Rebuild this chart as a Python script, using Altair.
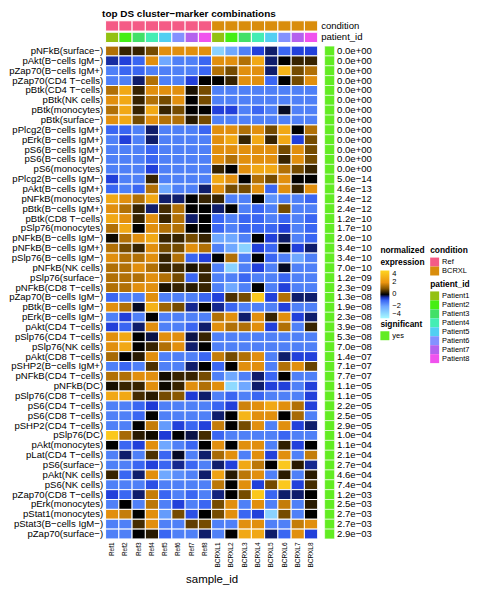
import altair as alt
import pandas as pd

samples = ["Ref1", "Ref2", "Ref3", "Ref4", "Ref5", "Ref6", "Ref7", "Ref8",
           "BCRXL1", "BCRXL2", "BCRXL3", "BCRXL4", "BCRXL5", "BCRXL6", "BCRXL7", "BCRXL8"]
conditions = ["Ref", "Ref", "Ref", "Ref", "Ref", "Ref", "Ref", "Ref",
              "BCRXL", "BCRXL", "BCRXL", "BCRXL", "BCRXL", "BCRXL", "BCRXL", "BCRXL"]
patients = ["Patient1", "Patient2", "Patient3", "Patient4", "Patient5", "Patient6", "Patient7", "Patient8",
            "Patient1", "Patient2", "Patient3", "Patient4", "Patient5", "Patient6", "Patient7", "Patient8"]
condition_levels = ["Ref", "BCRXL"]
condition_colors = ["#F45B86", "#D98D0C"]
patient_levels = ["Patient1", "Patient2", "Patient3", "Patient4", "Patient5", "Patient6", "Patient7", "Patient8"]
patient_colors = ["#93C112", "#45EE14", "#42E068", "#44EDB4", "#52CFF2", "#8391FF", "#B462EE", "#F052EE"]

markers = [
    "pNFkB(surface−)", "pAkt(B−cells IgM−)", "pZap70(B−cells IgM+)", "pZap70(CD4 T−cells)",
    "pBtk(CD4 T−cells)", "pBtk(NK cells)", "pBtk(monocytes)", "pBtk(surface−)",
    "pPlcg2(B−cells IgM+)", "pErk(B−cells IgM+)", "pS6(B−cells IgM+)", "pS6(B−cells IgM−)",
    "pS6(monocytes)", "pPlcg2(B−cells IgM−)", "pAkt(B−cells IgM+)", "pNFkB(monocytes)",
    "pBtk(B−cells IgM+)", "pBtk(CD8 T−cells)", "pSlp76(monocytes)", "pNFkB(B−cells IgM−)",
    "pNFkB(B−cells IgM+)", "pSlp76(B−cells IgM−)", "pNFkB(NK cells)", "pSlp76(surface−)",
    "pNFkB(CD8 T−cells)", "pZap70(B−cells IgM−)", "pBtk(B−cells IgM−)", "pErk(B−cells IgM−)",
    "pAkt(CD4 T−cells)", "pSlp76(CD4 T−cells)", "pSlp76(NK cells)", "pAkt(CD8 T−cells)",
    "pSHP2(B−cells IgM+)", "pNFkB(CD4 T−cells)", "pNFkB(DC)", "pSlp76(CD8 T−cells)",
    "pS6(CD4 T−cells)", "pS6(CD8 T−cells)", "pSHP2(CD4 T−cells)", "pSlp76(DC)",
    "pAkt(monocytes)", "pLat(CD4 T−cells)", "pS6(surface−)", "pAkt(NK cells)",
    "pS6(NK cells)", "pZap70(CD8 T−cells)", "pErk(monocytes)", "pStat1(monocytes)",
    "pStat3(B−cells IgM−)", "pZap70(surface−)",
]

pvalues = [
    "0.0e+00", "0.0e+00", "0.0e+00", "0.0e+00", "0.0e+00", "0.0e+00", "0.0e+00", "0.0e+00",
    "0.0e+00", "0.0e+00", "0.0e+00", "0.0e+00", "0.0e+00", "5.0e−14", "4.6e−13", "2.4e−12",
    "2.4e−12", "1.2e−10", "1.7e−10", "2.0e−10", "3.4e−10", "3.4e−10", "7.0e−10", "1.2e−09",
    "2.3e−09", "1.3e−08", "1.9e−08", "2.3e−08", "3.9e−08", "5.3e−08", "7.0e−08", "1.4e−07",
    "7.1e−07", "7.7e−07", "1.1e−05", "1.1e−05", "2.2e−05", "2.5e−05", "2.9e−05", "1.0e−04",
    "1.1e−04", "2.1e−04", "2.7e−04", "4.6e−04", "7.4e−04", "1.2e−03", "2.5e−03", "2.7e−03",
    "2.7e−03", "2.9e−03",
]

expression = [
    [1.4, 0.4, 0.4, 0.85, 1.9, 1.9, 1.9, 1.9, -3.0, -2.0, -1.4, -0.65, -0.3, -1.0, -0.65, -0.65],
    [-0.45, -0.65, -1.0, 1.9, -2.0, -1.4, -1.4, -1.0, 1.9, 1.9, 1.4, 2.6, -0.3, 0.0, 0.4, 0.4],
    [-1.4, -1.0, -1.0, -1.4, -1.4, -1.4, -1.4, -1.0, 1.4, 0.85, 1.9, 1.9, -0.3, 3.0, 0.85, 1.4],
    [-1.4, -1.4, -0.3, 1.4, -1.4, -1.4, -0.65, 0.0, 0.0, 0.4, 1.9, 1.9, -1.0, 0.0, 0.85, 1.9],
    [1.4, 2.6, 0.4, 1.9, 1.9, 1.9, 0.2, 0.85, -1.4, -1.4, -1.4, -1.4, -1.4, -1.4, -1.4, -1.4],
    [1.9, 2.6, 0.4, 1.4, 0.85, 1.9, 0.0, 0.85, -1.4, -1.4, -1.4, -1.4, -1.4, -1.4, -1.4, -1.4],
    [1.4, 2.6, 0.4, 2.6, 0.4, 0.85, 0.0, 0.0, -0.65, -0.65, -1.4, -1.0, -1.4, -0.1, -1.4, -1.4],
    [1.9, 2.6, 0.85, 1.9, 1.4, 1.4, 0.3, 0.85, -1.4, -1.4, -1.4, -1.4, -1.4, -1.4, -1.4, -1.4],
    [-1.0, -1.0, -1.4, -0.3, -1.4, -1.4, -1.4, -1.0, 1.9, 1.9, 1.4, 1.9, 0.85, 2.6, 0.0, 1.4],
    [-1.4, -0.65, -1.4, -0.3, -1.4, -1.4, -1.4, -1.4, 1.9, 2.6, 0.4, 2.6, 0.4, 2.6, -0.65, 0.85],
    [-1.4, -1.4, -1.4, -1.0, -1.4, -1.4, -1.4, -1.4, 1.9, 1.9, 1.9, 1.9, 1.9, 0.85, 1.9, 0.85],
    [-1.4, -1.4, -1.4, -1.0, -1.4, -1.4, -1.4, -1.4, 1.9, 1.4, 1.9, 1.9, 1.9, 0.4, 1.9, 0.85],
    [-1.4, -1.4, -1.4, -0.65, -1.4, -1.4, -1.4, -1.4, 0.4, 0.0, 1.9, 2.6, 2.6, 1.4, 0.85, 0.4],
    [-0.65, -1.4, -1.4, 0.4, -1.4, -1.4, -1.4, -1.4, 2.6, 1.9, 0.0, 1.4, 0.85, 1.9, 0.0, 0.0],
    [-1.0, -1.4, -1.0, 1.4, -2.0, -1.4, -1.4, -0.3, 1.9, 0.85, 0.85, 1.9, -1.0, 1.9, 0.4, 1.9],
    [2.6, 1.9, 1.4, 2.6, -0.3, -0.3, 0.0, 0.4, 0.4, -1.4, -1.4, 0.0, -1.7, -1.4, -1.4, -1.0],
    [1.9, 1.4, 0.4, -0.3, 0.5, 1.4, 0.0, 0.0, -0.3, 0.0, -1.4, -1.0, -1.4, 0.85, -1.4, -1.4],
    [2.6, 1.9, 0.4, 1.9, 0.4, 1.4, -0.3, 0.0, -1.0, -1.4, -1.0, -1.0, -1.4, -1.0, -1.4, -1.0],
    [1.4, 2.6, 0.0, 1.9, 1.4, 1.4, 0.0, 0.0, -1.0, -1.4, -1.0, -1.0, -1.0, -0.65, -1.4, -1.0],
    [0.1, 1.4, 1.9, 2.6, 0.4, 0.4, 0.85, 0.4, -2.0, -2.0, -1.4, 0.0, -0.65, -0.3, -1.4, -1.0],
    [1.4, 0.85, 0.4, 1.9, 0.85, 0.85, 1.9, 1.4, -1.4, -2.0, -3.0, -0.65, -1.0, 0.0, -0.65, -0.3],
    [1.9, 1.4, 1.4, 1.9, 0.4, 1.4, -1.0, -0.65, 0.0, 1.4, -1.4, 0.0, -1.0, -1.4, -2.0, -1.4],
    [1.4, 1.4, 1.9, 1.4, 0.4, 0.5, 0.2, 0.4, -1.4, -3.0, -1.4, -0.65, -1.4, -0.1, -1.4, -1.4],
    [1.4, 1.4, 1.4, 1.9, 1.4, 0.85, -1.0, 0.4, -1.4, -1.4, -1.0, -1.4, -1.4, -1.0, -1.4, -1.4],
    [1.4, 1.4, 1.9, 1.9, 0.2, 0.4, 0.3, 0.4, -1.4, -2.0, -1.4, 0.0, -1.4, -0.65, -1.4, -1.4],
    [-1.0, -1.4, -1.4, 1.9, -1.4, -1.4, -1.4, -1.0, -0.65, 0.55, 0.85, 3.6, -0.65, 1.4, -0.3, -0.3],
    [1.9, 1.4, -0.1, 2.9, 1.2, 0.85, -0.4, 0.0, -0.4, -1.0, -1.4, -1.4, -1.4, -0.65, -1.4, -1.4],
    [-1.4, -0.65, -1.4, 0.0, -1.4, -1.4, -1.4, -1.4, 1.4, 1.9, -0.3, 1.9, 0.4, 1.9, -0.65, -0.3],
    [-0.65, -1.0, -0.3, 1.9, -1.4, -1.4, -1.0, -0.3, 1.9, 1.4, 1.4, 1.9, -0.65, 1.4, -1.4, 0.4],
    [1.9, 2.6, 0.0, -0.2, 1.9, 1.9, -0.2, 0.4, -1.4, -1.4, -1.4, -1.4, -1.4, -1.4, -1.4, -1.4],
    [1.9, 2.6, 0.0, 0.4, 1.4, 1.9, -0.3, 0.0, -1.4, -1.4, -1.4, -1.4, -1.4, -1.4, -1.4, -1.4],
    [1.3, 0.0, 0.3, 1.9, -1.4, -1.4, -1.4, -1.0, 1.6, 0.85, 1.4, 1.9, -1.4, -0.3, -0.65, -0.65],
    [-1.4, -1.0, -1.4, 0.55, -1.4, -1.4, -0.3, 0.0, -1.0, 0.0, 1.9, 1.9, -1.4, 1.4, 1.9, 0.75],
    [1.4, 1.4, 1.9, 1.9, 0.15, 0.4, 0.4, 0.85, -1.4, -2.0, -1.4, -0.3, -1.0, 0.0, -1.4, -1.4],
    [0.15, 0.4, 0.4, 1.9, 0.1, 0.4, 1.9, 1.4, 1.9, -3.2, -2.0, -0.3, -0.65, -0.65, -1.4, -0.65],
    [2.6, 2.6, 0.5, 0.3, 0.85, 1.0, -0.6, -0.3, -1.4, -1.0, -1.4, -1.0, -1.4, -1.4, -1.4, -0.65],
    [-1.4, -1.4, -1.0, -0.6, -1.4, -1.4, -1.4, -1.4, -1.0, -0.65, 1.7, 1.9, 2.6, 1.9, 1.4, -0.65],
    [-1.4, -1.4, -1.0, 0.0, -1.4, -1.4, -1.4, -1.4, -0.3, 0.0, 3.0, 1.9, 1.9, 0.0, 1.3, -1.4],
    [-1.4, -1.4, 0.0, 1.6, -1.8, -0.65, -1.0, -0.65, 1.6, 0.0, 0.85, 1.9, -1.4, 1.9, -0.65, -0.3],
    [3.6, 1.3, 0.3, 0.1, -0.6, 0.0, -0.2, 0.5, -1.0, -1.4, -1.4, -1.4, -1.4, -1.0, -1.4, -1.4],
    [0.0, -1.0, -0.65, 1.9, -2.0, -1.4, -1.0, 0.0, 1.9, 0.0, 1.9, 1.9, -1.4, 0.35, -0.65, 0.0],
    [-1.4, -0.3, -1.4, 0.55, -1.0, -0.1, -1.4, -0.3, 1.3, 1.9, -1.4, 1.9, -0.65, 1.9, -1.4, 1.6],
    [-1.4, -1.4, -1.0, -0.65, -1.0, -0.4, -1.0, -1.4, -0.3, -0.65, 2.6, 1.5, 0.0, 3.6, 0.3, -0.4],
    [0.4, -1.0, -0.3, 1.9, -2.0, -1.6, -1.4, -0.3, 2.4, 0.3, 1.5, 1.9, -1.4, 0.3, -1.4, 0.3],
    [-1.4, -1.4, -1.4, -0.8, -1.4, -1.4, -1.4, -1.4, 1.5, 0.0, 1.9, -0.65, 0.85, 3.6, -0.65, 0.5],
    [-0.65, -1.0, -0.3, 1.6, -1.0, -1.4, -1.0, -1.4, -0.35, 0.0, 0.85, 3.6, -1.0, -0.3, -0.3, 0.0],
    [-1.4, 0.0, -1.4, 1.5, -1.4, -0.65, -1.4, -1.0, 0.85, 1.9, -1.4, 1.9, -1.4, 1.6, -1.4, 0.3],
    [1.9, 1.6, 0.0, 1.9, -1.8, 0.85, -0.8, 0.0, 0.85, 1.9, -1.0, -0.65, -3.0, 0.85, -1.4, 0.0],
    [-1.4, -1.4, 0.5, 1.9, -1.4, -1.4, 0.7, 0.85, -1.4, -1.4, 1.9, 1.9, -1.4, -1.4, 1.6, 1.9],
    [-1.4, -1.4, 0.0, 0.3, -1.0, -1.4, -1.4, -0.3, -1.4, 0.0, 2.6, 2.6, -0.3, -1.0, 1.9, -0.65],
]

legend_ticks = [4, 2, 0, -2, -4]
heat_domain = [-4, -2, -1, -0.6, 0, 1, 2, 4]
heat_range = ["#a5fbff", "#6fa8ff", "#3a66f2", "#1e3ad6", "#000000", "#8a5800", "#eb9510", "#ffd520"]
sig_color = "#62EC22"

FONT = "Liberation Sans"

# ---------- tables ----------
heat_df = pd.DataFrame(
    [{"marker": m, "sample_id": s, "value": v}
     for m, row in zip(markers, expression) for s, v in zip(samples, row)]
)
annot_df = pd.DataFrame({"sample_id": samples, "condition": conditions, "patient_id": patients})
sig_keys = [f"{i:02d}|{p}" for i, p in enumerate(pvalues)]
sig_df = pd.DataFrame({"key": sig_keys, "significant": ["yes"] * len(pvalues), "col": ["sig"] * len(pvalues)})

# ---------- annotation bars ----------
annot_y = alt.Y("row:N", sort=["condition", "patient_id"], title=None,
                scale=alt.Scale(domain=["condition", "patient_id"], paddingInner=0.1),
                axis=alt.Axis(orient="right", ticks=False, domain=False, labelPadding=3,
                              labelFontSize=9.6, labelColor="black"))
annot_x = alt.X("sample_id:N", sort=samples, axis=None)

cond_layer = alt.Chart(annot_df).transform_calculate(row="'condition'").mark_rect(
    stroke="white", strokeWidth=1).encode(
    x=annot_x, y=annot_y,
    color=alt.Color("condition:N", scale=alt.Scale(domain=condition_levels, range=condition_colors),
                    legend=alt.Legend(title="condition", orient="none", legendX=326, legendY=227,
                                      symbolType="square", symbolSize=81, symbolStrokeWidth=0,
                                      rowPadding=0, titleFontSize=8.4, labelFontSize=7.5,
                                      titlePadding=3, labelOffset=3, padding=0)))
pat_layer = alt.Chart(annot_df).transform_calculate(row="'patient_id'").mark_rect(
    stroke="white", strokeWidth=1).encode(
    x=annot_x, y=annot_y,
    color=alt.Color("patient_id:N", scale=alt.Scale(domain=patient_levels, range=patient_colors),
                    legend=alt.Legend(title="patient_id", orient="none", legendX=326, legendY=261,
                                      symbolType="square", symbolSize=81, symbolStrokeWidth=0,
                                      rowPadding=0, titleFontSize=8.4, labelFontSize=7.5,
                                      titlePadding=3, labelOffset=3, padding=0)))
annot = alt.layer(cond_layer, pat_layer).resolve_scale(color="independent").properties(
    width=213, height=23,
    title=alt.TitleParams("top DS cluster−marker combinations", anchor="start", fontSize=10,
                          fontWeight="bold", offset=1, dx=-3, color="black"))

blank = alt.Chart(pd.DataFrame({"a": [0]})).mark_point(opacity=0).encode(
    x=alt.X("a:Q", axis=None), y=alt.Y("a:Q", axis=None)).properties(width=10, height=23)

# ---------- heatmap ----------
heat = alt.Chart(heat_df).mark_rect(stroke="white", strokeWidth=1).encode(
    x=alt.X("sample_id:N", sort=samples, title="sample_id",
            axis=alt.Axis(labelAngle=-90, labelFontSize=6.5, ticks=False, domain=False,
                          labelPadding=3, labelColor="black", titleFontSize=11.5,
                          titleFontWeight="normal", titlePadding=6, titleColor="black")),
    y=alt.Y("marker:N", sort=markers, title=None,
            axis=alt.Axis(ticks=False, domain=False, labelFontSize=9.6, labelPadding=3,
                          labelLimit=250, labelColor="black")),
    color=alt.Color("value:Q",
                    scale=alt.Scale(domain=heat_domain, range=heat_range, interpolate="rgb", clamp=True),
                    legend=alt.Legend(title=["normalized", "expression"], orient="none",
                                      legendX=276, legendY=201, direction="vertical",
                                      gradientLength=48, gradientThickness=9, values=legend_ticks,
                                      titleFontSize=8.4, titleLineHeight=12, labelFontSize=7.5,
                                      titlePadding=4, labelOffset=3, gradientStrokeWidth=0,
                                      padding=0)),
).properties(width=213, height=495)

# ---------- significance column ----------
sig = alt.Chart(sig_df).mark_rect(stroke="white", strokeWidth=0.6).encode(
    x=alt.X("col:N", axis=None),
    y=alt.Y("key:N", sort=sig_keys, title=None,
            axis=alt.Axis(orient="right", labelExpr="split(datum.value, '|')[1]", ticks=False,
                          domain=False, labelPadding=2, labelFontSize=9.6, labelColor="black")),
    color=alt.Color("significant:N", scale=alt.Scale(domain=["yes"], range=[sig_color]),
                    legend=alt.Legend(title="significant", orient="none", legendX=56, legendY=275,
                                      symbolType="square", symbolSize=81, symbolStrokeWidth=0,
                                      titleFontSize=8.4, labelFontSize=7.5, titlePadding=3,
                                      labelOffset=3, padding=0)),
).properties(width=10, height=495)

chart = alt.concat(annot, blank, heat, sig, columns=2, spacing={"row": 3, "column": 7},
                   bounds="flush").resolve_scale(color="independent").properties(
    padding=0
).configure(font=FONT).configure_view(strokeWidth=0).configure_legend(
    titleFontWeight="bold", titleColor="black", labelColor="black", titleFont=FONT, labelFont=FONT
).configure_title(font=FONT)

chart.save("out.html", embed_options={"renderer": "svg", "actions": False})
